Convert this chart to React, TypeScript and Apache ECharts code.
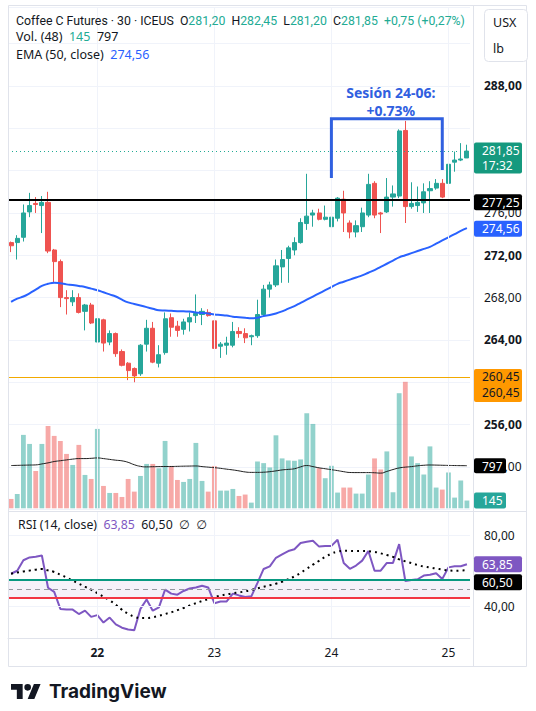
import React, { useEffect, useRef } from "react";
import * as echarts from "echarts";

// ---- Session layout (30-minute bars) ----
const sessionTimes = ["10:15", "10:45", "11:15", "11:45", "12:15", "12:45", "13:15", "13:45", "14:15", "14:45", "15:15", "15:45", "16:15", "16:45", "17:15", "17:45", "18:15", "18:45", "19:15"];
const sessionDays = ["21", "22", "23", "24", "25"];
const sessionFirstSlot = [5, 0, 0, 0, 0];
const sessionBarCount = [14, 19, 19, 19, 4];
const weekStartDays = ["22"];

// ---- OHLC ----
const opens = [273.2, 273.2, 273.7, 276.1, 276.9, 276.7, 277.0, 272.5, 271.4, 268.0, 267.6, 268.0, 266.7, 267.3, 263.8, 265.9, 263.8, 264.6, 262.9, 261.8, 261.3, 260.8, 263.6, 265.1, 261.8, 262.8, 266.1, 265.3, 265.0, 265.7, 266.3, 266.4, 266.6, 265.8, 263.4, 263.5, 263.5, 264.8, 264.6, 264.3, 264.4, 266.4, 268.8, 269.2, 270.9, 271.7, 272.5, 273.2, 275.0, 275.8, 276.0, 275.4, 274.7, 275.5, 277.3, 275.05, 274.2, 274.7, 275.8, 278.8, 276.0, 276.1, 277.5, 277.6, 283.8, 276.6, 276.7, 276.95, 278.1, 278.35, 278.8, 278.8, 280.8, 281.0, 281.2];
const highs = [273.3, 273.9, 276.8, 277.9, 277.5, 277.6, 278.0, 272.6, 271.6, 268.7, 268.7, 268.4, 267.4, 267.5, 266.5, 266.0, 264.9, 264.7, 263.1, 261.9, 261.4, 263.6, 265.9, 265.7, 263.5, 266.6, 266.5, 265.8, 266.0, 266.6, 268.3, 267.0, 266.9, 266.0, 263.8, 264.3, 265.7, 265.2, 265.1, 264.5, 267.8, 269.2, 269.5, 271.6, 272.5, 272.9, 273.7, 275.5, 279.7, 276.3, 276.4, 276.7, 278.45, 277.5, 278.1, 275.3, 275.3, 276.5, 279.7, 279.0, 276.1, 279.3, 278.6, 283.9, 284.7, 278.9, 278.5, 278.8, 279.0, 279.2, 279.2, 282.0, 281.8, 282.6, 282.45];
const lows = [272.3, 271.6, 273.3, 275.6, 276.0, 274.1, 272.2, 269.4, 267.1, 266.4, 267.2, 266.5, 264.9, 265.5, 261.3, 262.9, 263.5, 262.4, 261.5, 260.2, 260.0, 260.6, 262.9, 261.8, 261.4, 262.6, 264.3, 264.3, 264.5, 264.8, 265.6, 265.4, 266.2, 262.9, 262.3, 262.6, 263.3, 264.2, 263.7, 263.5, 264.2, 266.2, 268.0, 269.0, 269.4, 269.4, 272.0, 273.1, 274.4, 274.7, 275.3, 275.3, 274.2, 275.2, 274.2, 273.6, 273.7, 274.2, 275.6, 275.5, 274.1, 276.0, 276.6, 277.4, 275.05, 276.4, 276.1, 276.0, 276.0, 278.2, 277.4, 278.7, 279.9, 280.9, 281.2];
const closes = [272.9, 273.6, 276.0, 276.7, 276.8, 277.0, 272.4, 271.4, 268.0, 267.9, 268.0, 266.6, 267.3, 265.6, 266.0, 263.7, 264.6, 262.7, 261.6, 261.1, 260.6, 263.5, 265.1, 261.9, 262.6, 266.0, 265.2, 264.9, 265.7, 266.1, 266.5, 266.7, 266.3, 263.2, 263.6, 263.7, 264.8, 264.6, 264.2, 264.4, 266.4, 268.8, 269.2, 271.0, 271.6, 272.7, 273.2, 275.1, 275.7, 276.0, 275.4, 275.6, 275.6, 277.4, 276.0, 274.2, 274.8, 276.0, 278.7, 275.8, 275.9, 277.5, 277.8, 283.75, 276.6, 276.9, 277.0, 278.0, 278.3, 278.8, 277.5, 280.6, 281.0, 281.1, 281.85];
const priceChange = 0.75;
const priceChangePct = 0.27;
const barCountdown = "17:32";

// ---- EMA (50, close) ----
const ema50 = [267.6, 267.9, 268.1, 268.4, 268.75, 269.1, 269.3, 269.4, 269.35, 269.25, 269.2, 269.1, 269.0, 268.85, 268.7, 268.5, 268.3, 268.1, 267.8, 267.55, 267.4, 267.25, 267.1, 266.95, 266.8, 266.78, 266.75, 266.72, 266.7, 266.68, 266.6, 266.55, 266.5, 266.4, 266.35, 266.3, 266.2, 266.15, 266.1, 266.05, 266.1, 266.25, 266.35, 266.5, 266.7, 266.95, 267.2, 267.5, 267.8, 268.1, 268.4, 268.7, 269.0, 269.3, 269.5, 269.7, 269.9, 270.1, 270.35, 270.6, 270.9, 271.2, 271.5, 271.8, 272.0, 272.2, 272.4, 272.6, 272.8, 273.1, 273.4, 273.7, 274.0, 274.3, 274.56];

// ---- Volume and its 48-bar average ----
const volumes = [175, 268, 1373, 1204, 699, 1204, 1541, 1354, 1260, 1017, 811, 1186, 624, 549, 1485, 418, 287, 287, 212, 549, 312, 605, 830, 830, 749, 1260, 792, 530, 493, 549, 1223, 512, 312, 792, 331, 331, 362, 231, 257, 106, 876, 845, 764, 1365, 933, 895, 889, 914, 1778, 1578, 751, 563, 795, 294, 388, 388, 275, 275, 632, 933, 726, 1064, 300, 2153, 2366, 970, 845, 632, 1158, 388, 350, 670, 200, 520, 145];
const volumeMA = [800, 803, 806, 809, 812, 830, 850, 875, 890, 905, 920, 930, 930, 935, 942, 930, 915, 900, 888, 860, 815, 785, 775, 778, 780, 782, 782, 785, 788, 790, 792, 780, 770, 760, 748, 732, 718, 700, 680, 672, 672, 675, 685, 700, 718, 728, 740, 775, 800, 780, 757, 740, 722, 705, 685, 670, 668, 668, 668, 665, 658, 690, 725, 755, 770, 780, 795, 805, 810, 808, 805, 802, 800, 798, 797];

// ---- RSI (14, close) and its moving average ----
const rsi = [58.5, 60.2, 66.1, 67.7, 68.1, 68.8, 50.6, 48.3, 38.7, 38.3, 38.3, 35.8, 37.7, 34.2, 35.2, 31.0, 33.8, 30.0, 28.1, 27.1, 26.7, 38.7, 44.0, 37.7, 39.6, 49.6, 47.3, 46.7, 48.8, 50.2, 50.8, 51.7, 50.8, 41.9, 42.9, 42.9, 47.3, 46.3, 45.4, 45.8, 53.4, 61.2, 62.7, 67.5, 69.4, 71.3, 72.3, 75.8, 76.5, 77.1, 73.8, 74.2, 74.2, 77.7, 64.6, 61.3, 63.1, 65.9, 71.3, 60.2, 60.2, 64.6, 64.6, 75.2, 54.4, 55.0, 55.4, 57.5, 57.9, 58.8, 55.6, 62.1, 62.7, 62.7, 63.85];
const rsiMA = [58.5, 59.2, 59.8, 60.3, 60.8, 61.2, 60.4, 59.5, 58.0, 56.4, 54.6, 52.9, 51.2, 49.5, 47.6, 45.6, 43.5, 41.0, 38.2, 36.0, 34.3, 33.6, 33.6, 34.0, 34.8, 35.8, 36.8, 38.0, 39.2, 40.6, 41.9, 43.1, 44.2, 45.3, 46.2, 46.9, 47.5, 48.0, 48.6, 49.4, 50.3, 51.2, 52.0, 52.9, 54.0, 55.4, 57.0, 59.0, 61.3, 63.6, 65.8, 68.0, 69.8, 71.0, 71.4, 71.4, 71.3, 71.3, 71.2, 70.8, 70.0, 69.1, 68.0, 66.6, 65.5, 64.5, 63.4, 62.6, 62.0, 61.4, 60.9, 60.4, 60.2, 60.3, 60.5];
const rsiBands = { upper: 55, middle: 50, lower: 45 };
const rsiTickLabels = [40, 80];

// ---- Price axis ticks and drawn levels ----
const priceTickInterval = 4;
const boldPriceTicks = [288, 272, 264, 256];
const resistanceLevel = 277.25;
const supportLevel = 260.45;

// ---- Session annotation (24-06) ----
const annotationLines = ["Sesión 24-06:", "+0.73%"];
const bracketStartBar = 52;
const bracketEndBar = 70;
const bracketTop = 284.9;
const bracketStartLow = 279.3;
const bracketEndLow = 280.05;

const UP = "#26a69a";
const DOWN = "#ef5350";
const VOL_UP = "rgba(38,166,154,0.5)";
const VOL_DOWN = "rgba(239,83,80,0.5)";
const TEXT = "#131722";
const TEAL_TEXT = "#22ab94";
const BLUE = "#2962ff";
const PURPLE = "#7e57c2";
const GRID = "#f0f3fa";
const BORDER = "#e0e3eb";
const FONT = "'Noto Sans', 'DejaVu Sans', sans-serif";
const LEGEND_FONT = "Roboto, 'Noto Sans', 'DejaVu Sans', sans-serif";

const LOGO_D = "M14 22H7V11H0V4h14v18zM28 22h-8l7.5-18h8L28 22zM24 8a4 4 0 1 1-8 0a4 4 0 1 1 8 0z";
let logoRegistered = false;

const fmt = (v: number) => v.toFixed(2).replace(".", ",");

export default function App() {
  const ref = useRef<HTMLDivElement>(null);

  useEffect(() => {
    if (!logoRegistered) {
      echarts.graphic.registerShape("tvLogo", echarts.graphic.extendPath(LOGO_D, {}));
      logoRegistered = true;
    }
    const el = ref.current!;
    const chart = echarts.init(el, null, { renderer: "svg" });

    const categories: string[] = [];
    const dayStartIdx: number[] = [];
    sessionDays.forEach((d, k) => {
      sessionTimes.slice(sessionFirstSlot[k], sessionFirstSlot[k] + sessionBarCount[k]).forEach((t, j) => {
        if (j === 0 && sessionFirstSlot[k] === 0) dayStartIdx.push(categories.length);
        categories.push(`${d} ${t}`);
      });
    });
    const n = closes.length;
    const last = n - 1;

    const candleData = opens.map((o, i) => [o, closes[i], lows[i], highs[i]]);
    const volData = volumes.map((v, i) => ({
      value: v,
      itemStyle: { color: closes[i] >= opens[i] ? VOL_UP : VOL_DOWN },
    }));

    // tick labels that sit under a price tag are left out
    const taggedPrices = [closes[last], supportLevel];
    const tickHidden = (v: number) => v < 250 || v > 290 || taggedPrices.some((p) => Math.abs(p - v) < 2.5);

    const dayLines = {
      silent: true,
      symbol: ["none", "none"],
      label: { show: false },
      lineStyle: { color: GRID, width: 1, type: "solid" },
      data: dayStartIdx.map((i) => ({ xAxis: i })),
    };

    const xAxes = [0, 1, 2].map((g) => ({
      type: "category",
      gridIndex: g,
      data: categories,
      boundaryGap: true,
      axisLine: { show: g === 2, lineStyle: { color: BORDER } },
      axisTick: { show: false },
      splitLine: { show: false },
      axisLabel:
        g === 2
          ? {
              show: true,
              interval: (idx: number) => dayStartIdx.includes(idx),
              margin: 8,
              color: TEXT,
              fontSize: 12,
              fontFamily: FONT,
              formatter: (val: string) => {
                const d = val.split(" ")[0];
                return weekStartDays.includes(d) ? `{b|${d}}` : d;
              },
              rich: { b: { fontWeight: "bold", fontSize: 12, color: TEXT, fontFamily: FONT } },
            }
          : { show: false },
    }));

    const option = {
      animation: false,
      backgroundColor: "#ffffff",
      textStyle: { fontFamily: FONT },
      grid: [
        { left: 8, width: 462, top: 7.7, height: 501.5 },
        { left: 8, width: 462, top: 380, height: 128.3 },
        { left: 8, width: 462, top: 512, height: 126 },
      ],
      xAxis: xAxes,
      yAxis: [
        {
          type: "value",
          gridIndex: 0,
          position: "right",
          min: 248,
          max: 295.4,
          interval: priceTickInterval,
          axisLine: { show: false },
          axisTick: { show: false },
          splitLine: { show: true, lineStyle: { color: GRID, width: 1 } },
          axisLabel: {
            margin: 14,
            color: TEXT,
            fontSize: 12,
            fontFamily: FONT,
            formatter: (v: number) => {
              if (tickHidden(v)) return "";
              const s = fmt(v);
              return boldPriceTicks.includes(v) ? `{b|${s}}` : s;
            },
            rich: { b: { fontWeight: "bold", fontSize: 12, color: TEXT, fontFamily: FONT } },
          },
        },
        {
          type: "value",
          gridIndex: 1,
          min: 0,
          max: 2400,
          show: false,
          splitLine: { show: false },
        },
        {
          type: "value",
          gridIndex: 2,
          position: "right",
          min: 22.3,
          max: 93.3,
          axisLine: { show: false },
          axisTick: { show: false },
          splitLine: { show: false },
          axisLabel: {
            margin: 14,
            color: TEXT,
            fontSize: 12,
            fontFamily: FONT,
            customValues: rsiTickLabels,
            formatter: (v: number) => fmt(v),
          },
        },
      ],
      series: [
        {
          type: "line",
          xAxisIndex: 0,
          yAxisIndex: 0,
          data: [],
          z: 1,
          silent: true,
          markLine: dayLines,
        },
        {
          type: "candlestick",
          xAxisIndex: 0,
          yAxisIndex: 0,
          data: candleData,
          barWidth: 4.6,
          z: 3,
          itemStyle: { color: UP, color0: DOWN, borderColor: UP, borderColor0: DOWN, borderWidth: 1 },
          markLine: {
            silent: true,
            symbol: ["none", "none"],
            label: { show: false },
            data: [
              { yAxis: resistanceLevel, lineStyle: { color: "#000000", width: 2, type: "solid" } },
              { yAxis: supportLevel, lineStyle: { color: "#f2a900", width: 1, type: "solid" } },
              { yAxis: closes[last], lineStyle: { color: TEAL_TEXT, width: 1, type: [1, 3] } },
            ],
          },
        },
        {
          type: "line",
          xAxisIndex: 0,
          yAxisIndex: 0,
          data: ema50,
          showSymbol: false,
          smooth: true,
          z: 4,
          lineStyle: { color: BLUE, width: 2 },
        },
        {
          type: "line",
          xAxisIndex: 0,
          yAxisIndex: 0,
          data: [
            [bracketStartBar, bracketStartLow],
            [bracketStartBar, bracketTop],
            [bracketEndBar, bracketTop],
            [bracketEndBar, bracketEndLow],
          ],
          showSymbol: false,
          z: 5,
          lineStyle: { color: "#3060e0", width: 3, cap: "butt", join: "miter" },
        },
        {
          type: "bar",
          xAxisIndex: 1,
          yAxisIndex: 1,
          data: volData,
          barWidth: "78%",
          z: 2,
        },
        {
          type: "line",
          xAxisIndex: 1,
          yAxisIndex: 1,
          data: volumeMA,
          showSymbol: false,
          smooth: true,
          z: 3,
          lineStyle: { color: "#1e1e1e", width: 1 },
        },
        {
          type: "line",
          xAxisIndex: 2,
          yAxisIndex: 2,
          data: [],
          z: 1,
          silent: true,
          markArea: {
            silent: true,
            itemStyle: { color: "rgba(126,87,194,0.08)" },
            data: [[{ yAxis: rsiBands.lower }, { yAxis: rsiBands.upper }]],
          },
          markLine: {
            silent: true,
            symbol: ["none", "none"],
            label: { show: false },
            data: [
              ...dayStartIdx.map((i) => ({ xAxis: i, lineStyle: { color: GRID, width: 1, type: "solid" } })),
              ...rsiTickLabels.map((v) => ({ yAxis: v, lineStyle: { color: GRID, width: 1, type: "solid" } })),
              { yAxis: rsiBands.upper, lineStyle: { color: "#089981", width: 2, type: "solid" } },
              { yAxis: rsiBands.middle, lineStyle: { color: "#9598a1", width: 1, type: [5, 4] } },
              { yAxis: rsiBands.lower, lineStyle: { color: "#f23645", width: 2, type: "solid" } },
            ],
          },
        },
        {
          type: "line",
          xAxisIndex: 2,
          yAxisIndex: 2,
          data: rsi,
          showSymbol: false,
          z: 3,
          lineStyle: { color: PURPLE, width: 2 },
        },
        {
          type: "line",
          xAxisIndex: 2,
          yAxisIndex: 2,
          data: rsiMA,
          showSymbol: false,
          smooth: true,
          z: 4,
          lineStyle: { color: "#000000", width: 2, type: [2, 4] },
        },
      ],
    };

    chart.setOption(option as any);

    // ---- overlays placed through the axes ----
    const yPrice = (v: number) => chart.convertToPixel({ yAxisIndex: 0 }, v) as number;
    const yVol = (v: number) => chart.convertToPixel({ yAxisIndex: 1 }, v) as number;
    const yRsi = (v: number) => chart.convertToPixel({ yAxisIndex: 2 }, v) as number;
    const xBar = (i: number) => chart.convertToPixel({ xAxisIndex: 0 }, categories[i]) as number;

    const tagX = 474;
    const ZT = 100;
    const textStyle = (fill: string, extra: any = {}) => ({
      fill,
      fontSize: 12,
      fontFamily: FONT,
      verticalAlign: "middle",
      ...extra,
    });

    const box = (top: number, h: number, w: number, bg: string, lines: string[], color: string, lineGap = 15) => [
      { type: "rect", z: ZT, shape: { x: tagX, y: top, width: w, height: h, r: 2 }, style: { fill: bg } },
      ...lines.map((t, k) => ({
        type: "text",
        z: ZT + 1,
        x: tagX + 8,
        y: top + 8 + k * lineGap,
        style: textStyle(color, { text: t }),
      })),
    ];

    const yClose = yPrice(closes[last]);
    const yRes = yPrice(resistanceLevel);
    const yEma = yPrice(ema50[last]);
    const ySup = yPrice(supportLevel);
    const yVolMA = yVol(volumeMA[last]);
    const yVolLast = yVol(volumes[last]);
    const yRsiLast = yRsi(rsi[last]);

    const xMid = (xBar(bracketStartBar) + xBar(bracketEndBar)) / 2 + 4;
    const yBracket = yPrice(bracketTop);

    const rich = (font: string, size: number) => ({
      d: { fill: TEXT, fontSize: size, fontFamily: font },
      g: { fill: TEAL_TEXT, fontSize: size, fontFamily: font },
      bl: { fill: BLUE, fontSize: size, fontFamily: font },
      p: { fill: PURPLE, fontSize: size, fontFamily: font },
    });
    const legend = (x: number, y: number, text: string, font: string, size: number) => ({
      type: "text",
      z: ZT,
      x,
      y,
      style: { text, rich: rich(font, size), fontSize: size, fontFamily: font, fill: TEXT, verticalAlign: "middle" },
    });

    const line1 =
      `{d|Coffee C Futures · 30 · ICEUS}  {d|O}{g|${fmt(opens[last])}}  {d|H}{g|${fmt(highs[last])}}  ` +
      `{d|L}{g|${fmt(lows[last])}}  {d|C}{g|${fmt(closes[last])}}  {g|+${fmt(priceChange)} (+${fmt(priceChangePct)}%)}`;
    const line2 = `{d|Vol. (48)}  {g|${volumes[last]}}  {d|${volumeMA[last]}}`;
    const line3 = `{d|EMA (50, close)}  {bl|${fmt(ema50[last])}}`;
    const line4 = `{d|RSI (14, close)}  {p|${fmt(rsi[last])}}  {d|${fmt(rsiMA[last])}}  {d|∅}  {d|∅}`;

    const purpleTop = yRsiLast - 8;

    const annotationStyle = {
      fill: "#3060e0",
      fontSize: 14,
      fontWeight: "bold",
      fontFamily: FONT,
      align: "center",
      verticalAlign: "middle",
    };

    chart.setOption({
      graphic: [
        // frame and pane separators
        { type: "rect", z: 90, shape: { x: 8.5, y: 5.5, width: 518, height: 661 }, style: { fill: "none", stroke: BORDER, lineWidth: 1 } },
        { type: "line", z: 90, shape: { x1: 473.5, y1: 5.5, x2: 473.5, y2: 666.5 }, style: { stroke: BORDER, lineWidth: 1 } },
        { type: "line", z: 90, shape: { x1: 8.5, y1: 511.5, x2: 526.5, y2: 511.5 }, style: { stroke: BORDER, lineWidth: 1 } },

        // legends
        legend(16, 20.5, line1, LEGEND_FONT, 12.3),
        legend(16, 36.5, line2, FONT, 12.5),
        legend(16, 54.5, line3, FONT, 12.5),
        legend(18, 524.5, line4, FONT, 12.3),

        // currency / unit box
        { type: "rect", z: ZT, shape: { x: 484.5, y: 9.5, width: 43, height: 52, r: 4 }, style: { fill: "#ffffff", stroke: BORDER, lineWidth: 1 } },
        { type: "text", z: ZT + 1, x: 493, y: 22, style: textStyle(TEXT, { text: "USX", fontSize: 12.5 }) },
        { type: "text", z: ZT + 1, x: 493, y: 48, style: textStyle(TEXT, { text: "lb", fontSize: 12.5 }) },

        // price scale tags
        ...box(yClose - 8.5, 31, 48, "#15997e", [fmt(closes[last]), barCountdown], "#ffffff", 14.5),
        ...box(yRes - 5.5, 16, 48, "#000000", [fmt(resistanceLevel)], "#ffffff"),
        ...box(yEma - 7.5, 16, 48, BLUE, [fmt(ema50[last])], "#ffffff"),
        ...box(ySup - 8.5, 33, 48, "#ff9800", [fmt(supportLevel), fmt(supportLevel)], "#131722", 16),
        ...box(yVolMA - 7.5, 15, 32, "#000000", [String(volumeMA[last])], "#ffffff"),
        ...box(yVolLast - 8, 16, 32, "#26a69a", [String(volumes[last])], "#ffffff"),
        ...box(purpleTop, 16, 48, PURPLE, [fmt(rsi[last])], "#ffffff"),
        ...box(purpleTop + 18, 16, 48, "#000000", [fmt(rsiMA[last])], "#ffffff"),

        // session annotation text (two lines above the bracket)
        { type: "text", z: ZT, x: xMid, y: yBracket - 26, style: { ...annotationStyle, text: annotationLines[0] } },
        { type: "text", z: ZT, x: xMid, y: yBracket - 8, style: { ...annotationStyle, text: annotationLines[1] } },

        // brand mark
        { type: "tvLogo", z: ZT, x: 11, y: 680.7, scaleX: 0.833, scaleY: 0.833, style: { fill: TEXT } },
        {
          type: "text",
          z: ZT,
          x: 49,
          y: 691.5,
          style: { text: "TradingView", fill: TEXT, fontSize: 19, fontWeight: "bold", fontFamily: "Inter, 'Noto Sans', sans-serif", verticalAlign: "middle" },
        },
      ],
    } as any);

    return () => chart.dispose();
  }, []);

  return (
    <div style={{ position: "fixed", left: 0, top: 0, width: 536, height: 711, background: "#ffffff" }}>
      <div ref={ref} style={{ width: 536, height: 711 }} />
    </div>
  );
}
